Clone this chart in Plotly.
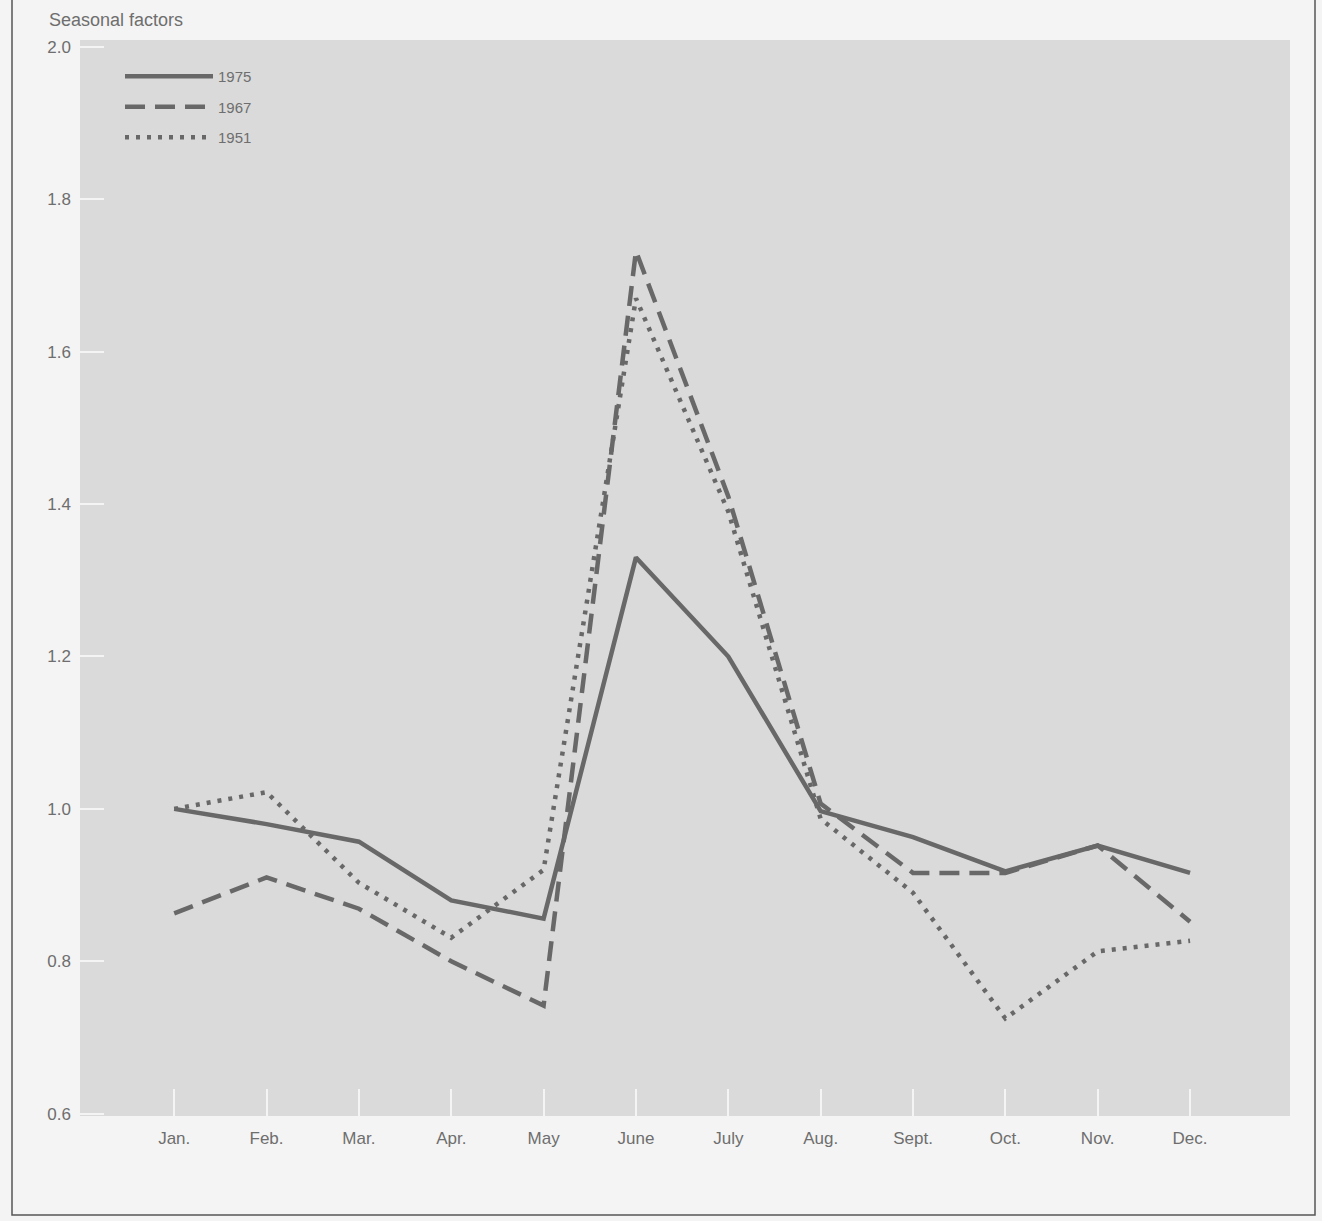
import plotly.graph_objects as go

months = ["Jan.", "Feb.", "Mar.", "Apr.", "May", "June", "July", "Aug.", "Sept.", "Oct.", "Nov.", "Dec."]
s1975 = [1.00, 0.980, 0.957, 0.880, 0.856, 1.330, 1.200, 0.997, 0.963, 0.918, 0.952, 0.916]
s1967 = [0.863, 0.910, 0.869, 0.800, 0.742, 1.732, 1.410, 1.007, 0.916, 0.916, 0.952, 0.852]
s1951 = [1.000, 1.022, 0.903, 0.831, 0.920, 1.670, 1.390, 0.987, 0.890, 0.725, 0.813, 0.827]
y_ticks = [0.6, 0.8, 1.0, 1.2, 1.4, 1.6, 1.8, 2.0]

LINE = "#686868"
TEXT = "#6e6e6e"
FONT = "Liberation Sans, Arial, sans-serif"

W, H = 1322, 1221
ML, MR, MT, MB = 80, 32, 40, 105
PW, PH = W - ML - MR, H - MT - MB

x_idx = list(range(len(months)))

fig = go.Figure()
fig.add_trace(go.Scatter(x=x_idx, y=s1975, mode="lines", name="1975", legendgroup="a",
                         line=dict(color=LINE, width=4.5)))
fig.add_trace(go.Scatter(x=x_idx, y=s1967, mode="lines", name="1967", legendgroup="b",
                         line=dict(color=LINE, width=4.5, dash="20px,10px")))
fig.add_trace(go.Scatter(x=x_idx, y=s1951, mode="lines", name="1951", legendgroup="c",
                         line=dict(color=LINE, width=4.5, dash="4px,7px")))

def px_x(p):
    return (p - ML) / PW

def px_y(p):
    return (H - MB - p) / PH

x0, x1 = px_x(12), px_x(1315)
yb, yt = px_y(1215), px_y(-5)
fig.add_shape(type="path", xref="paper", yref="paper",
              path=f"M {x0},{yt} L {x0},{yb} L {x1},{yb} L {x1},{yt}",
              line=dict(color="#555555", width=1.5))

fig.add_annotation(text="Seasonal factors", xref="paper", yref="paper",
                   x=px_x(47), y=px_y(20), xanchor="left", yanchor="middle",
                   showarrow=False, font=dict(family=FONT, size=18, color=TEXT))

fig.update_layout(
    width=W, height=H,
    margin=dict(l=ML, r=MR, t=MT, b=MB),
    paper_bgcolor="#f4f4f4",
    plot_bgcolor="#dadada",
    font=dict(family=FONT, color=TEXT),
    legend=dict(x=px_x(120), y=px_y(60), xanchor="left", yanchor="top",
                bgcolor="rgba(0,0,0,0)", itemwidth=88,
                font=dict(family=FONT, size=15, color=TEXT),
                tracegroupgap=8),
    showlegend=True,
)
fig.update_xaxes(
    range=[-1.02, 11 + (1290 - 1190) / 92.4],
    tickmode="array", tickvals=x_idx, ticktext=months,
    ticks="inside", ticklen=27, tickwidth=2, tickcolor="#f4f4f4",
    showgrid=False, zeroline=False, showline=False,
    tickfont=dict(family=FONT, size=17, color=TEXT),
    ticklabelstandoff=10,
)
fig.update_yaxes(
    range=[0.597, 2.009],
    tickmode="array", tickvals=y_ticks, ticktext=[f"{v:.1f}" for v in y_ticks],
    ticks="inside", ticklen=24, tickwidth=1.5, tickcolor="#f4f4f4",
    showgrid=False, zeroline=False, showline=False,
    tickfont=dict(family=FONT, size=17, color=TEXT),
    ticklabelstandoff=8,
)

fig.write_html("out.html", config={"displayModeBar": False},
               post_script="document.body.style.margin='0';document.body.style.overflow='hidden';")
